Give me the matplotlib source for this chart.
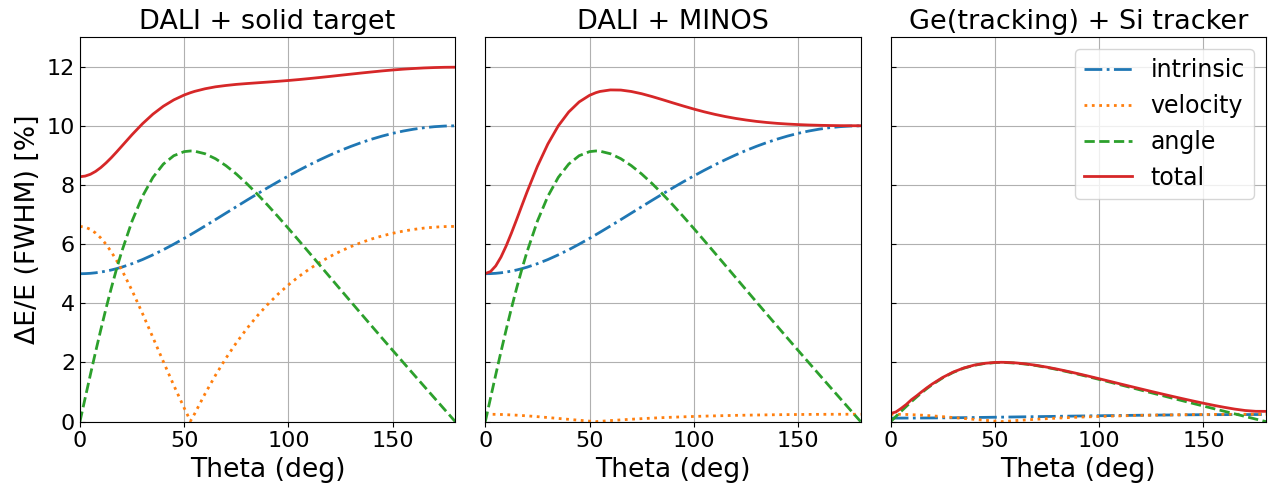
import matplotlib
matplotlib.use("Agg")
import matplotlib.pyplot as plt

plt.rcParams['font.size'] = 16

# emission angle grid (deg), denser at forward angles
theta = [0, 2.5, 5, 7.5, 10, 12.5, 15, 17.5, 20, 25, 30, 35, 40, 45, 50, 53, 55, 60,
         65, 70, 75, 80, 85, 90, 95, 100, 105, 110, 115, 120, 125, 130, 135, 140,
         145, 150, 155, 160, 165, 170, 175, 180]

# DALI (NaI) resolution contributions, shared by the first two setups
intrinsic_dali = [5.000, 5.004, 5.014, 5.032, 5.057, 5.088, 5.126, 5.171, 5.221, 5.340,
                  5.479, 5.638, 5.811, 5.999, 6.196, 6.319, 6.402, 6.614, 6.830, 7.048,
                  7.266, 7.483, 7.696, 7.906, 8.110, 8.307, 8.497, 8.679, 8.851, 9.014,
                  9.166, 9.306, 9.435, 9.551, 9.655, 9.746, 9.823, 9.886, 9.936, 9.971,
                  9.993, 10.000]
angle_dali = [0.000, 0.797, 1.586, 2.358, 3.107, 3.825, 4.506, 5.146, 5.740, 6.781,
              7.619, 8.257, 8.707, 8.990, 9.128, 9.150, 9.143, 9.056, 8.888, 8.654,
              8.371, 8.047, 7.695, 7.320, 6.930, 6.529, 6.120, 5.707, 5.292, 4.876,
              4.461, 4.047, 3.634, 3.224, 2.815, 2.408, 2.004, 1.601, 1.199, 0.799,
              0.399, 0.000]

# solid target: large velocity spread
velocity_solid = [6.600, 6.575, 6.500, 6.377, 6.208, 5.996, 5.744, 5.457, 5.140, 4.431,
                  3.655, 2.844, 2.028, 1.228, 0.460, 0.019, 0.266, 0.943, 1.568, 2.142,
                  2.666, 3.141, 3.572, 3.960, 4.310, 4.624, 4.906, 5.159, 5.384, 5.585,
                  5.762, 5.919, 6.057, 6.177, 6.280, 6.367, 6.440, 6.498, 6.543, 6.575,
                  6.594, 6.600]
total_solid = [8.280, 8.301, 8.361, 8.459, 8.589, 8.745, 8.920, 9.110, 9.307, 9.702,
               10.071, 10.395, 10.663, 10.877, 11.042, 11.120, 11.165, 11.253, 11.319,
               11.364, 11.401, 11.429, 11.454, 11.479, 11.505, 11.533, 11.564, 11.598,
               11.634, 11.671, 11.710, 11.748, 11.786, 11.822, 11.857, 11.888, 11.915,
               11.938, 11.957, 11.970, 11.979, 11.982]

# MINOS: vertex tracking removes most of the velocity term
velocity_minos = [0.250, 0.249, 0.246, 0.242, 0.235, 0.227, 0.218, 0.207, 0.195, 0.168,
                  0.138, 0.108, 0.077, 0.047, 0.017, 0.001, 0.010, 0.036, 0.059, 0.081,
                  0.101, 0.119, 0.135, 0.150, 0.163, 0.175, 0.186, 0.195, 0.204, 0.212,
                  0.218, 0.224, 0.229, 0.234, 0.238, 0.241, 0.244, 0.246, 0.248, 0.249,
                  0.250, 0.250]
total_minos = [5.006, 5.073, 5.265, 5.562, 5.940, 6.370, 6.828, 7.298, 7.762, 8.633,
               9.386, 9.999, 10.468, 10.808, 11.032, 11.120, 11.162, 11.214, 11.209,
               11.161, 11.085, 10.989, 10.884, 10.775, 10.669, 10.567, 10.473, 10.389,
               10.315, 10.251, 10.197, 10.150, 10.113, 10.083, 10.060, 10.042, 10.028,
               10.018, 10.011, 10.006, 10.004, 10.003]

# Ge tracking array + Si tracker
intrinsic_ge = [0.120, 0.120, 0.120, 0.121, 0.121, 0.122, 0.123, 0.124, 0.125, 0.128,
                0.131, 0.135, 0.139, 0.144, 0.149, 0.152, 0.154, 0.159, 0.164, 0.169,
                0.174, 0.180, 0.185, 0.190, 0.195, 0.199, 0.204, 0.208, 0.212, 0.216,
                0.220, 0.223, 0.226, 0.229, 0.232, 0.234, 0.236, 0.237, 0.238, 0.239,
                0.240, 0.240]
velocity_ge = velocity_minos
angle_ge = [0.000, 0.174, 0.347, 0.515, 0.679, 0.836, 0.985, 1.125, 1.255, 1.482,
            1.665, 1.805, 1.903, 1.965, 1.995, 2.000, 1.998, 1.979, 1.943, 1.892,
            1.830, 1.759, 1.682, 1.600, 1.515, 1.427, 1.338, 1.247, 1.157, 1.066,
            0.975, 0.885, 0.794, 0.705, 0.615, 0.526, 0.438, 0.350, 0.262, 0.175,
            0.087, 0.000]
total_ge = [0.277, 0.327, 0.447, 0.582, 0.744, 0.875, 1.017, 1.151, 1.276, 1.497,
            1.676, 1.813, 1.910, 1.971, 2.001, 2.006, 2.004, 1.986, 1.951, 1.902,
            1.841, 1.773, 1.698, 1.618, 1.535, 1.450, 1.364, 1.277, 1.191, 1.106,
            1.021, 0.938, 0.856, 0.776, 0.698, 0.622, 0.550, 0.484, 0.424, 0.376,
            0.349, 0.347]

panels = [
    ("DALI + solid target", intrinsic_dali, velocity_solid, angle_dali, total_solid),
    ("DALI + MINOS", intrinsic_dali, velocity_minos, angle_dali, total_minos),
    ("Ge(tracking) + Si tracker", intrinsic_ge, velocity_ge, angle_ge, total_ge),
]

fig, axes = plt.subplots(1, 3, figsize=(12.77, 4.88), dpi=100, sharey=True)
fig.subplots_adjust(left=0.0626, right=0.9914, bottom=0.136, top=0.924, wspace=0.08)

for ax, (title, intr, vel, ang, tot) in zip(axes, panels):
    ax.plot(theta, intr, '-.', color='tab:blue', lw=2, label='intrinsic')
    ax.plot(theta, vel, ':', color='tab:orange', lw=2, label='velocity')
    ax.plot(theta, ang, '--', color='tab:green', lw=2, label='angle')
    ax.plot(theta, tot, '-', color='tab:red', lw=2, label='total')
    ax.set_title(title, fontsize=19.5)
    ax.set_xlabel('Theta (deg)', fontsize=19.2)
    ax.set_xlim(0, 180)
    ax.set_ylim(0, 13)
    ax.set_xticks([0, 50, 100, 150])
    ax.set_yticks([0, 2, 4, 6, 8, 10, 12])
    ax.tick_params(axis='y', direction='in')
    ax.grid(True)

axes[0].set_ylabel('ΔE/E (FWHM) [%]', fontsize=19.2)
axes[2].legend(loc='upper right', fontsize=17)

fig.savefig('out.png')
